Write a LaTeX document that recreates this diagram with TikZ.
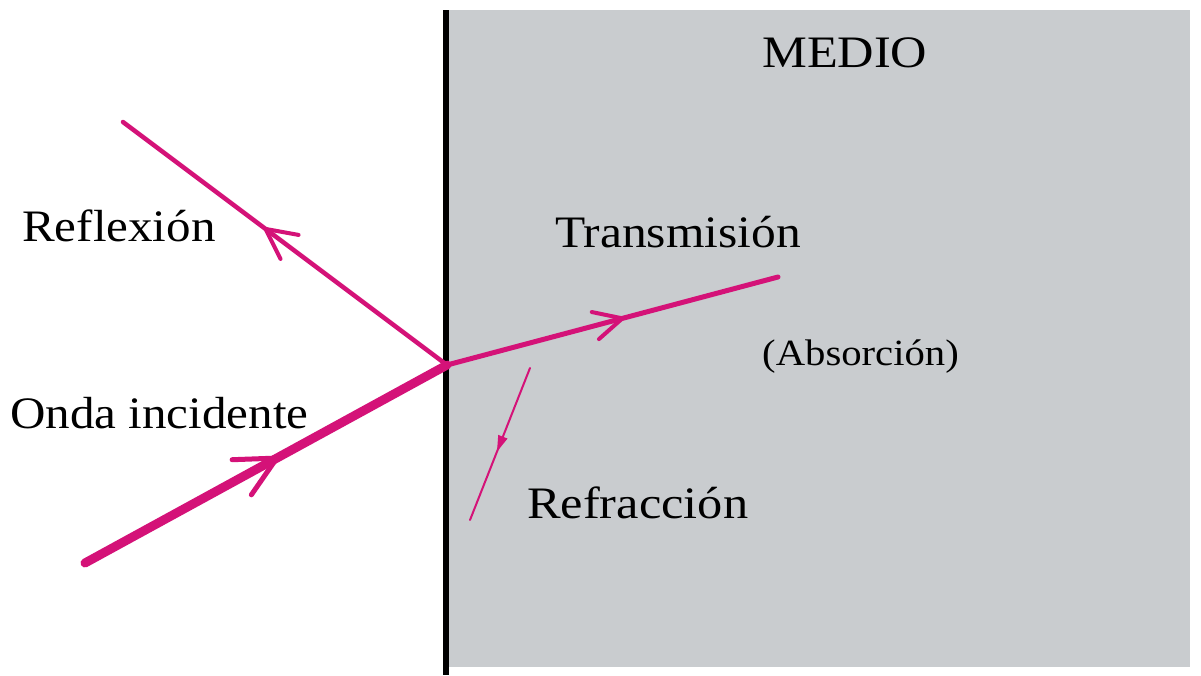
\documentclass[tikz,border=0pt]{standalone}
\usepackage{fontspec}
\setmainfont{Liberation Serif}
\usepackage{graphicx}
\usetikzlibrary{decorations.markings}
\definecolor{medgray}{RGB}{201,204,207}
\definecolor{ray}{RGB}{212,18,120}
\tikzset{
  lbl/.style={anchor=base west, inner sep=0pt, font=\fontsize{45}{54}\selectfont},
  sml/.style={anchor=base west, inner sep=0pt, font=\fontsize{37}{44}\selectfont},
  raypath/.style={draw=ray, line cap=round},
  chev/.style n args={3}{postaction={decorate}, decoration={markings,
      mark=at position #1 with {\draw[ray, line width=#2, line cap=round, line join=miter] (-#3pt,0.5*#3pt) -- (0,0) -- (-#3pt,-0.5*#3pt);}}},
}
\begin{document}
\begin{tikzpicture}[x=1pt,y=-1pt]
\useasboundingbox (0,0) rectangle (1201,675);
\fill[white] (0,0) rectangle (1201,675);
% medium
\fill[medgray] (449,10) rectangle (1190,667);
\draw[line width=6pt] (446,10) -- (446,675);
% coordinates
\coordinate (O) at (447,365);
\coordinate (inc) at (85,563);
\coordinate (refl) at (123,122);
\coordinate (trans) at (778,277);
\coordinate (r1) at (530,368);
\coordinate (r2) at (470,520);
% rays
\draw[raypath, line width=9pt, chev={0.53}{5pt}{40}] (inc) -- (O);
\draw[raypath, line width=4.5pt, chev={0.56}{4pt}{30}] (O) -- (refl);
\draw[raypath, line width=5pt, chev={0.53}{4pt}{28}] (O) -- (trans);
\draw[raypath, line width=2pt, postaction={decorate}, decoration={markings,
  mark=at position 0.55 with {\fill[ray] (-16pt,5pt) -- (0,0) -- (-16pt,-5pt) -- cycle;}}] (r1) -- (r2);
% labels
\node[lbl] (medio) at (762,67) {\scalebox{1.12}[1]{MEDIO}};
\node[lbl] (reflex) at (22,241) {\scalebox{1.09}[1]{Reflexión}};
\node[lbl] (transm) at (555,247) {\scalebox{1.1}[1]{Transmisión}};
\node[sml] (absor) at (762,365) {\scalebox{1.1}[1]{(Absorción)}};
\node[lbl] (onda) at (10,428) {\scalebox{1.09}[1]{Onda incidente}};
\node[lbl] (refrac) at (527,518) {\scalebox{1.12}[1]{Refracción}};
\end{tikzpicture}
\end{document}
